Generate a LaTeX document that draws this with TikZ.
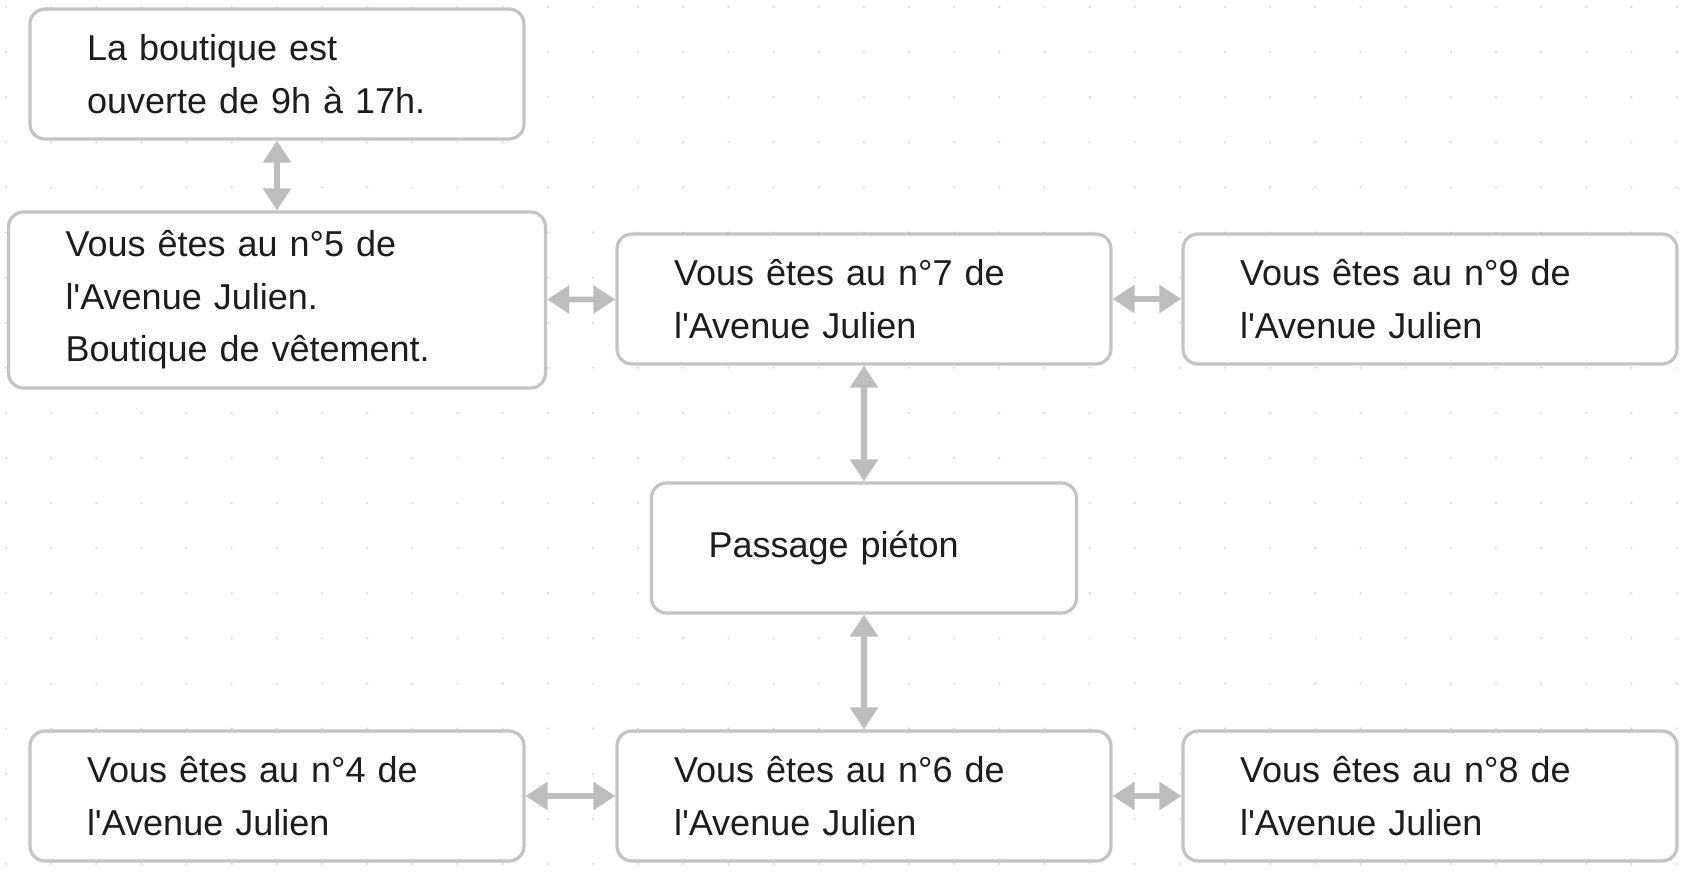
\documentclass[tikz,border=0pt]{standalone}
\usepackage{fontspec}
\setmainfont{Liberation Sans}[Ligatures=TeXOff]
\usetikzlibrary{arrows.meta,positioning}
\definecolor{boxgray}{HTML}{C4C4C4}
\definecolor{arrowgray}{HTML}{BDBDBD}
\definecolor{dotgray}{HTML}{DADADA}
\definecolor{txt}{HTML}{1C1C21}

\begin{document}
\begin{tikzpicture}
\tikzstyle{rect}=[rectangle, rounded corners=7.5pt, draw=boxgray, line width=1.6pt, fill=white, text=txt, align=left, inner xsep=28.5pt, inner ysep=0pt, minimum height=65pt, text width=190pt, font=\fontsize{18}{26.3}\selectfont, node distance=125pt]
\tikzstyle{wide}=[rect, text width=211.5pt, minimum height=88pt]
\tikzstyle{short}=[rect, text width=155.5pt]
\tikzstyle{connect}=[{Triangle[length=11pt,width=13.5pt]}-{Triangle[length=11pt,width=13.5pt]}, line width=2.8pt, draw=arrowgray]

  \useasboundingbox (0,0) rectangle (843pt,-436pt);

  % dotted background
  \foreach \i in {0,...,37}
    \foreach \j in {0,...,19}
      \fill[dotgray] (3pt+\i*22.575pt, -3.5pt-\j*22.55pt) circle (0.6pt);

  \node[rect]  (open)  at (138.5pt,-37pt)                {La boutique est\\ouverte de 9h à 17h.};
  \node[wide]  (n5)    [below of =open, yshift=12pt]     {Vous êtes au n°5 de\\l'Avenue Julien.\\Boutique de vêtement.};
  \node[rect]  (n7)    [right of =n5, xshift=168.5pt, yshift=0.5pt] {Vous êtes au n°7 de\\l'Avenue Julien};
  \node[rect]  (n9)    [right of =n7, xshift=158pt]      {Vous êtes au n°9 de\\l'Avenue Julien};

  \node[short] (cross) [below of =n7, yshift=0.5pt]      {Passage piéton};

  \node[rect]  (n6)    [below of =cross, yshift=1pt]     {Vous êtes au n°6 de\\l'Avenue Julien};
  \node[rect]  (n4)    [left of =n6, xshift=-168.5pt]    {Vous êtes au n°4 de\\l'Avenue Julien};
  \node[rect]  (n8)    [right of =n6, xshift=158pt]      {Vous êtes au n°8 de\\l'Avenue Julien};

  \path (open) edge [connect] (n5);
  \path (n5) edge [connect] (n7);
  \path (n7) edge [connect] (n9);
  \path (n7) edge [connect] (cross);
  \path (cross) edge [connect] (n6);
  \path (n4) edge [connect] (n6);
  \path (n6) edge [connect] (n8);

\end{tikzpicture}
\end{document}
